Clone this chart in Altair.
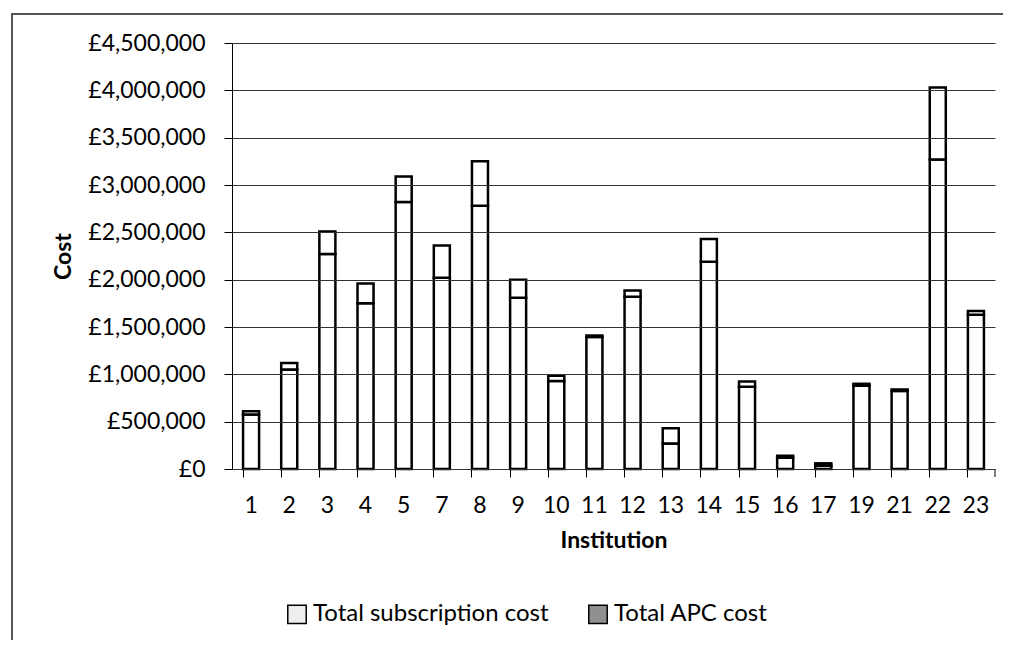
import altair as alt
import pandas as pd

institutions = ["1", "2", "3", "4", "5", "7", "8", "9", "10", "11", "12", "13", "14", "15", "16", "17", "19", "21", "22", "23"]
subscription = [575000, 1050000, 2270000, 1750000, 2820000, 2020000, 2780000, 1810000, 930000, 1395000,
                1820000, 270000, 2190000, 870000, 120000, 35000, 880000, 825000, 3270000, 1630000]
apc = [35000, 70000, 240000, 210000, 270000, 340000, 470000, 190000, 55000, 15000,
       65000, 160000, 240000, 55000, 20000, 25000, 20000, 15000, 760000, 40000]
series = ["Total subscription cost", "Total APC cost"]

rows = []
for i, inst in enumerate(institutions):
    rows.append({"Institution": inst, "Series": series[0], "Cost": subscription[i], "ord": 0})
    rows.append({"Institution": inst, "Series": series[1], "Cost": apc[i], "ord": 1})
df = pd.DataFrame(rows)

FONT = "Lato"
W, H = 763, 426

bars = alt.Chart(df).mark_bar(stroke="black", strokeWidth=2.5).encode(
    x=alt.X("Institution:N", sort=institutions, title="Institution",
            scale=alt.Scale(paddingInner=0.58, paddingOuter=0.29),
            axis=alt.Axis(labelAngle=0, bandPosition=0, tickSize=8, tickColor="black",
                          domainColor="black", labelPadding=17, titlePadding=12,
                          labelFontSize=23, titleFontSize=23, titleFontWeight="bold",
                          labelFont=FONT, titleFont=FONT, labelColor="black", titleColor="black")),
    y=alt.Y("Cost:Q", title="Cost", stack="zero",
            scale=alt.Scale(domain=[0, 4500000], nice=False),
            axis=alt.Axis(values=list(range(0, 4500001, 500000)), labelExpr="'£' + format(datum.value, ',')",
                          tickSize=8, tickColor="black", domainColor="black", gridColor="#333333",
                          gridWidth=1, labelPadding=19, zindex=1,
                          labelFontSize=23, titleFontSize=23, titleFontWeight="bold",
                          labelFont=FONT, titleFont=FONT, labelColor="black", titleColor="black",
                          titleX=-169, titleY=213, titleAlign="center", titleBaseline="middle", titleAngle=270)),
    fill=alt.Fill("Series:N", sort=series,
                  scale=alt.Scale(domain=series, range=["#ffffff", "#ffffff"]), legend=None),
    order=alt.Order("ord:Q"),
)

legend_layer = alt.Chart(df).mark_square(opacity=0).encode(
    x=alt.value(0), y=alt.value(0),
    color=alt.Color("Series:N", sort=series,
                    scale=alt.Scale(domain=series, range=["#eeeeee", "#8f8f8f"]),
                    legend=alt.Legend(orient="none", legendX=53, legendY=559, direction="horizontal",
                                      title=None, symbolType="square", symbolSize=340, symbolOpacity=1,
                                      symbolStrokeColor="black", symbolStrokeWidth=1.5,
                                      labelFontSize=24, labelFont=FONT, labelColor="black",
                                      labelLimit=0, columnPadding=36, labelOffset=4, padding=0)),
)

end_tick = alt.Chart(pd.DataFrame({"v": [0]})).mark_rule(color="black", strokeWidth=1).encode(
    x=alt.value(W), y=alt.value(H), y2=alt.value(H + 8)
)

border = alt.Chart(pd.DataFrame({"v": [0]})).mark_rect(fill=None, stroke="#555555", strokeWidth=2).encode(
    x=alt.value(-220), x2=alt.value(W + 40), y=alt.value(-29), y2=alt.value(H + 220)
)

chart = alt.layer(border, bars, legend_layer, end_tick).resolve_scale(fill="independent", color="independent").properties(
    width=W, height=H,
    autosize=alt.AutoSizeParams(type="none"),
    padding={"left": 224, "top": 35, "right": 8, "bottom": 171},
).configure_view(stroke=None).configure_axisX(grid=False).configure_axisY(grid=True)

chart.save("out.html", embed_options={"renderer": "svg", "actions": False})
